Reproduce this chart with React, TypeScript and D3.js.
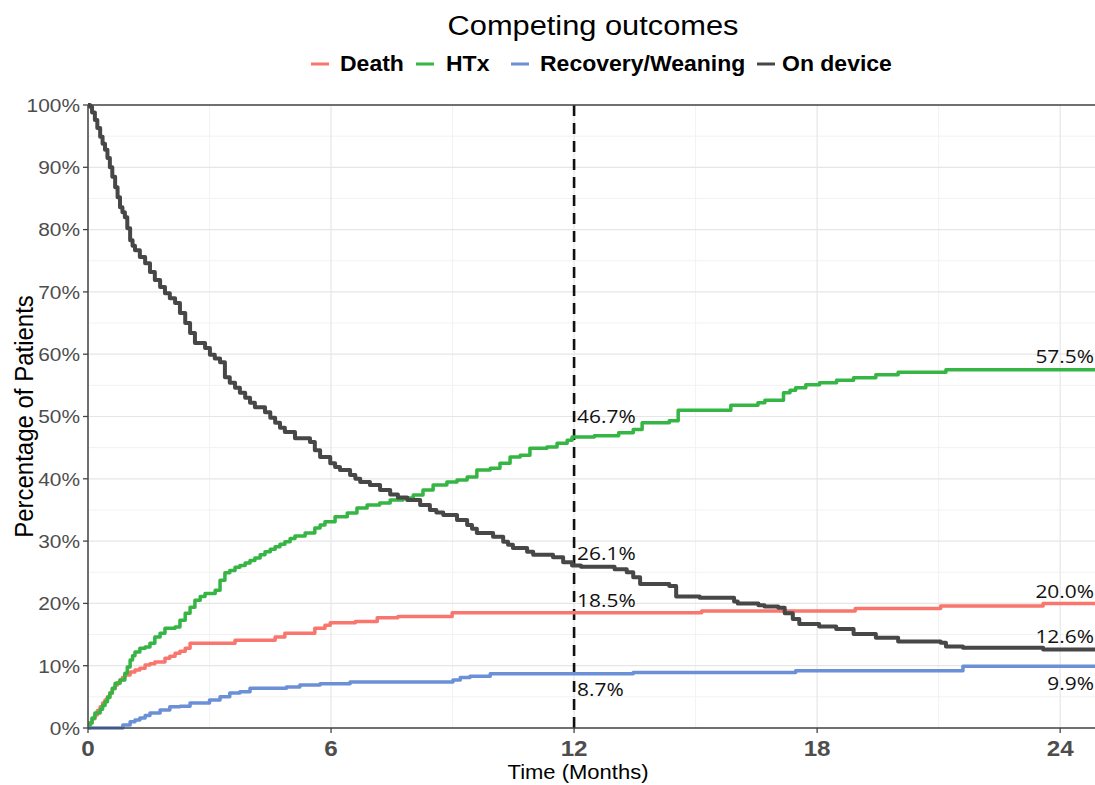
import React from 'react';
import * as d3 from 'd3';

// Cumulative incidence of competing outcomes, [month, percent] step points
const deathSteps: [number, number][] = [
  [0, 0], [0.02, 0.8], [0.1, 1.5], [0.17, 2.1], [0.23, 2.8], [0.3, 3.4], [0.36, 4.0], [0.42, 4.5],
  [0.48, 5.0], [0.54, 5.6], [0.6, 6.3], [0.67, 6.9], [0.73, 7.3], [0.79, 7.7], [0.85, 8.1],
  [0.91, 8.5], [1.04, 9.0], [1.16, 9.3], [1.28, 9.6], [1.41, 10.1], [1.53, 10.3], [1.65, 10.6],
  [1.9, 11.2], [2.02, 11.5], [2.15, 12.0], [2.27, 12.3], [2.4, 12.8], [2.52, 13.6], [3.63, 14.1],
  [4.62, 14.6], [4.86, 15.2], [5.6, 16.0], [5.85, 16.5], [5.98, 16.9], [6.6, 17.1], [7.14, 17.7],
  [7.65, 17.9], [8.99, 18.5], [15.15, 18.8], [18.94, 19.2], [21.05, 19.6], [23.58, 20.0],
  [24.86, 20.0],
];

const htxSteps: [number, number][] = [
  [0, 0], [0.05, 0.8], [0.1, 1.6], [0.17, 2.4], [0.3, 3.0], [0.36, 3.6], [0.42, 4.2], [0.48, 4.9],
  [0.54, 5.6], [0.6, 6.4], [0.67, 7.2], [0.79, 7.7], [0.91, 8.8], [0.97, 9.8], [1.04, 10.9],
  [1.1, 11.6], [1.16, 12.2], [1.28, 12.8], [1.41, 13.0], [1.53, 13.6], [1.65, 14.6], [1.78, 15.2],
  [1.9, 16.0], [2.15, 16.2], [2.27, 17.3], [2.4, 18.4], [2.52, 19.4], [2.64, 20.5], [2.77, 21.1],
  [2.89, 21.6], [3.14, 22.1], [3.26, 23.7], [3.38, 24.9], [3.5, 25.3], [3.63, 25.8], [3.75, 26.1],
  [3.88, 26.5], [4.0, 26.9], [4.12, 27.3], [4.25, 27.8], [4.37, 28.3], [4.5, 28.7], [4.62, 29.1],
  [4.74, 29.5], [4.86, 29.9], [4.99, 30.4], [5.11, 30.8], [5.36, 31.3], [5.6, 32.1], [5.73, 32.6],
  [5.85, 33.1], [6.1, 33.9], [6.4, 34.5], [6.64, 35.3], [6.89, 35.8], [7.2, 36.1], [7.46, 36.6],
  [7.78, 36.9], [8.03, 37.4], [8.27, 38.2], [8.52, 39.0], [8.86, 39.5], [9.11, 39.8], [9.36, 40.3],
  [9.6, 41.4], [9.93, 41.7], [10.17, 42.5], [10.42, 43.5], [10.67, 43.8], [10.91, 44.9],
  [11.33, 45.1], [11.58, 45.7], [11.83, 46.2], [11.95, 46.7], [12.5, 46.9], [13.1, 47.4],
  [13.46, 47.9], [13.68, 49.0], [14.35, 49.3], [14.57, 51.0], [15.87, 51.8], [16.54, 52.2],
  [16.71, 52.6], [17.17, 53.8], [17.33, 54.2], [17.47, 54.6], [17.72, 55.1], [18.06, 55.4],
  [18.48, 55.8], [18.9, 56.2], [19.45, 56.7], [20.0, 57.1], [21.18, 57.5], [24.86, 57.5],
];

const recoverySteps: [number, number][] = [
  [0, 0], [0.86, 0.5], [1.04, 1.0], [1.16, 1.3], [1.28, 1.6], [1.41, 2.0], [1.53, 2.4], [1.78, 2.9],
  [2.02, 3.4], [2.27, 3.5], [2.52, 4.0], [3.0, 4.5], [3.26, 5.0], [3.5, 5.6], [3.75, 5.8], [4.0, 6.4],
  [4.9, 6.6], [5.23, 6.9], [5.73, 7.1], [6.47, 7.4], [9.01, 7.7], [9.19, 8.1], [9.43, 8.3],
  [9.93, 8.7], [13.46, 8.9], [17.47, 9.2], [21.6, 9.9], [24.86, 9.9],
];

const onDeviceSteps: [number, number][] = [
  [0, 100], [0.05, 99.7], [0.1, 98.8], [0.17, 97.6], [0.23, 96.3], [0.3, 94.9], [0.36, 93.8],
  [0.42, 92.8], [0.48, 91.5], [0.54, 90.0], [0.6, 88.5], [0.67, 86.8], [0.73, 85.2], [0.79, 83.6],
  [0.85, 82.8], [0.91, 82.0], [0.97, 80.2], [1.04, 78.3], [1.1, 77.4], [1.16, 76.7], [1.28, 75.6],
  [1.41, 74.6], [1.53, 73.2], [1.65, 71.9], [1.78, 70.8], [1.9, 69.8], [2.02, 69.0], [2.15, 68.2],
  [2.27, 66.6], [2.4, 65.0], [2.52, 63.4], [2.64, 61.8], [2.89, 61.0], [3.01, 59.9], [3.13, 59.3],
  [3.26, 58.7], [3.38, 56.3], [3.5, 55.4], [3.63, 54.6], [3.75, 53.8], [3.88, 53.0], [4.0, 52.2],
  [4.12, 51.5], [4.37, 50.7], [4.5, 49.8], [4.62, 49.0], [4.74, 48.2], [4.86, 47.5], [5.11, 46.5],
  [5.48, 45.9], [5.6, 44.6], [5.73, 43.5], [5.98, 42.5], [6.1, 41.9], [6.22, 41.4], [6.47, 40.6],
  [6.6, 40.0], [6.72, 39.5], [6.96, 39.0], [7.21, 38.2], [7.46, 37.5], [7.65, 37.0], [7.88, 36.6],
  [8.2, 35.8], [8.44, 35.0], [8.6, 34.6], [8.77, 34.2], [9.11, 33.4], [9.36, 32.6], [9.48, 32.0],
  [9.6, 31.3], [10.0, 30.7], [10.25, 29.9], [10.37, 29.4], [10.49, 28.9], [10.84, 28.3],
  [10.99, 27.8], [11.48, 27.4], [11.73, 26.6], [11.95, 26.1], [12.17, 25.9], [13.0, 25.5],
  [13.3, 25.0], [13.46, 24.2], [13.63, 23.1], [14.35, 22.8], [14.52, 21.1], [15.1, 20.9],
  [15.95, 20.3], [16.04, 20.0], [16.55, 19.7], [16.7, 19.5], [17.04, 19.3], [17.2, 18.4],
  [17.4, 17.5], [17.56, 16.7], [18.05, 16.3], [18.47, 15.9], [18.9, 15.1], [19.45, 14.5],
  [20.0, 13.9], [21.05, 13.7], [21.18, 13.1], [21.6, 12.9], [23.58, 12.6], [24.86, 12.6],
];

const outcomeNames = ['Death', 'HTx', 'Recovery/Weaning', 'On device'];
const outcomeColors = ['#f8766d', '#35b543', '#6b90d6', '#474747'];

const xMajorTicks = [0, 6, 12, 18, 24];
const xMinorTicks = [3, 9, 15, 21];
const yMajorTicks = [0, 10, 20, 30, 40, 50, 60, 70, 80, 90, 100];
const yMinorTicks = [5, 15, 25, 35, 45, 55, 65, 75, 85, 95];

const landmarkMonth = 12;
const lastMonth = 24.86;

const W = 1095;
const H = 785;
const plot = { left: 88, right: 1095, top: 105, bottom: 728 };
const SX = 1.1; // horizontal text stretch
const sansFont = '"Liberation Sans", Arial, Helvetica, sans-serif';
const labelFont = '"Open Sans", "Liberation Sans", sans-serif';

function valueAt(steps: [number, number][], t: number): number {
  let v = steps[0][1];
  for (const [m, p] of steps) {
    if (m <= t + 1e-9) v = p;
  }
  return v;
}

export default function App() {
  const x = d3.scaleLinear().domain([0, lastMonth]).range([plot.left, plot.right]);
  const y = d3.scaleLinear().domain([0, 100]).range([plot.bottom, plot.top]);
  const line = d3
    .line<[number, number]>()
    .x((d) => x(d[0]))
    .y((d) => y(d[1]))
    .curve(d3.curveStepAfter);

  const series = [deathSteps, htxSteps, recoverySteps, onDeviceSteps];
  const widths = [3.5, 3.5, 3.5, 4];

  // label offsets (px) relative to the step value, per series
  const landmarkDy = [-12, -21, 16, -12];
  const endDy = [-12, -13, 17, -13];

  const legendItems = [
    { key: 311, text: 340 },
    { key: 416, text: 446 },
    { key: 511, text: 540 },
    { key: 757, text: 782 },
  ];

  const stretch = (tx: number, ty: number) => `translate(${tx},${ty}) scale(${SX},1)`;

  return (
    <svg
      width={W}
      height={H}
      style={{ position: 'absolute', left: 0, top: 0, background: '#fff' }}
      xmlns="http://www.w3.org/2000/svg"
    >
      <defs>
        <clipPath id="panel">
          <rect x={plot.left} y={plot.top - 3} width={plot.right - plot.left} height={plot.bottom - plot.top + 6} />
        </clipPath>
      </defs>
      <rect x={0} y={0} width={W} height={H} fill="#fff" />

      {/* grid */}
      <g>
        {yMinorTicks.map((t) => (
          <line key={'ym' + t} x1={plot.left} x2={plot.right} y1={y(t)} y2={y(t)} stroke="#f2f2f2" strokeWidth={1} />
        ))}
        {xMinorTicks.map((t) => (
          <line key={'xm' + t} x1={x(t)} x2={x(t)} y1={plot.top} y2={plot.bottom} stroke="#f2f2f2" strokeWidth={1} />
        ))}
        {yMajorTicks.map((t) => (
          <line key={'yM' + t} x1={plot.left} x2={plot.right} y1={y(t)} y2={y(t)} stroke="#e6e6e6" strokeWidth={1.2} />
        ))}
        {xMajorTicks.map((t) => (
          <line key={'xM' + t} x1={x(t)} x2={x(t)} y1={plot.top} y2={plot.bottom} stroke="#e6e6e6" strokeWidth={1.2} />
        ))}
      </g>

      {/* landmark */}
      <line
        x1={x(landmarkMonth)}
        x2={x(landmarkMonth)}
        y1={plot.top}
        y2={plot.bottom}
        stroke="#111"
        strokeWidth={2.6}
        strokeDasharray="11,7"
      />

      {/* curves */}
      <g clipPath="url(#panel)">
        {series.map((s, i) => (
          <path
            key={i}
            d={line(s) || ''}
            fill="none"
            stroke={outcomeColors[i]}
            strokeWidth={widths[i]}
            strokeLinejoin="round"
          />
        ))}
      </g>

      {/* axes */}
      <line x1={plot.left} x2={plot.right} y1={plot.top} y2={plot.top} stroke="#444" strokeWidth={1.3} />
      <line x1={plot.left} x2={plot.left} y1={plot.top} y2={plot.bottom} stroke="#444" strokeWidth={1.5} />
      <line x1={plot.left} x2={plot.right} y1={plot.bottom} y2={plot.bottom} stroke="#444" strokeWidth={1.5} />

      {yMajorTicks.map((t) => (
        <g key={'yt' + t}>
          <line x1={plot.left - 5} x2={plot.left} y1={y(t)} y2={y(t)} stroke="#444" strokeWidth={1.3} />
          <text
            transform={stretch(plot.left - 8, y(t))}
            textAnchor="end"
            dy="0.36em"
            fontFamily={sansFont}
            fontSize={19}
            fill="#4d4d4d"
          >
            {t + '%'}
          </text>
        </g>
      ))}

      {xMajorTicks.map((t) => (
        <g key={'xt' + t}>
          <line x1={x(t)} x2={x(t)} y1={plot.bottom} y2={plot.bottom + 5} stroke="#444" strokeWidth={1.3} />
          <text
            transform={stretch(x(t), plot.bottom + 28)}
            textAnchor="middle"
            fontFamily={sansFont}
            fontWeight="bold"
            fontSize={22}
            fill="#4d4d4d"
          >
            {t}
          </text>
        </g>
      ))}

      {/* value labels */}
      {series.map((s, i) => {
        const v = valueAt(s, landmarkMonth);
        return (
          <text
            key={'lm' + i}
            transform={stretch(x(landmarkMonth) + 3, y(v) + landmarkDy[i])}
            dy="0.35em"
            fontFamily={labelFont}
            fontSize={19}
            fill="#111"
          >
            {v.toFixed(1) + '%'}
          </text>
        );
      })}
      {series.map((s, i) => {
        const v = valueAt(s, lastMonth);
        return (
          <text
            key={'end' + i}
            transform={stretch(plot.right - 1, y(v) + endDy[i])}
            dy="0.35em"
            textAnchor="end"
            fontFamily={labelFont}
            fontSize={19}
            fill="#111"
          >
            {v.toFixed(1) + '%'}
          </text>
        );
      })}

      {/* axis titles */}
      <text
        transform={stretch(578, 779)}
        textAnchor="middle"
        fontFamily={sansFont}
        fontSize={20}
        fill="#000"
      >
        Time (Months)
      </text>
      <text
        transform={`translate(33,${(plot.top + plot.bottom) / 2}) scale(${SX},1) rotate(-90)`}
        textAnchor="middle"
        fontFamily={sansFont}
        fontSize={24}
        fill="#000"
      >
        Percentage of Patients
      </text>

      {/* title */}
      <text transform={stretch(593, 35)} textAnchor="middle" fontFamily={sansFont} fontSize={28} fill="#000">
        Competing outcomes
      </text>

      {/* legend */}
      {outcomeNames.map((name, i) => (
        <g key={'lg' + i}>
          <line
            x1={legendItems[i].key}
            x2={legendItems[i].key + 18}
            y1={64}
            y2={64}
            stroke={outcomeColors[i]}
            strokeWidth={3}
          />
          <text
            transform={`translate(${legendItems[i].text},71) scale(1.07,1)`}
            fontFamily={sansFont}
            fontWeight="bold"
            fontSize={21.5}
            fill="#000"
          >
            {name}
          </text>
        </g>
      ))}
    </svg>
  );
}
